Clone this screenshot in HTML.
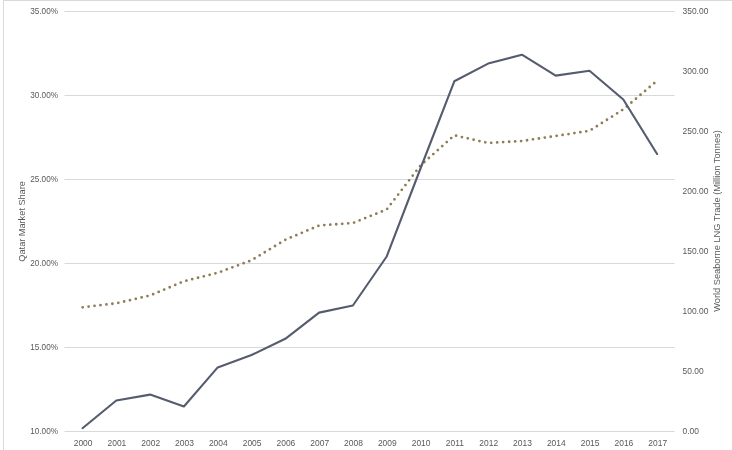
<!DOCTYPE html>
<html><head><meta charset="utf-8"><title>Qatar Market Share chart</title>
<style>
html,body{margin:0;padding:0;background:#fff;}
body{width:732px;height:450px;overflow:hidden;}
svg{display:block;}
text{font-family:"Liberation Sans", Arial, sans-serif;fill:#595959;}
</style></head><body>
<svg width="732" height="450" viewBox="0 0 732 450">
<rect x="0" y="0" width="732" height="450" fill="#fff"/>
<line x1="3.5" y1="0" x2="3.5" y2="450" stroke="#d9d9d9" stroke-width="1"/>
<line x1="3" y1="0.5" x2="732" y2="0.5" stroke="#d9d9d9" stroke-width="1"/>
<line x1="64.5" y1="11.5" x2="674.5" y2="11.5" stroke="#d9d9d9" stroke-width="1"/>
<line x1="64.5" y1="95.5" x2="674.5" y2="95.5" stroke="#d9d9d9" stroke-width="1"/>
<line x1="64.5" y1="179.5" x2="674.5" y2="179.5" stroke="#d9d9d9" stroke-width="1"/>
<line x1="64.5" y1="263.5" x2="674.5" y2="263.5" stroke="#d9d9d9" stroke-width="1"/>
<line x1="64.5" y1="347.5" x2="674.5" y2="347.5" stroke="#d9d9d9" stroke-width="1"/>
<line x1="64.5" y1="431.5" x2="674.5" y2="431.5" stroke="#d9d9d9" stroke-width="1"/>
<text transform="translate(58,14.4) scale(0.91,1)" font-size="9" text-anchor="end">35.00%</text>
<text transform="translate(58,98.4) scale(0.91,1)" font-size="9" text-anchor="end">30.00%</text>
<text transform="translate(58,182.4) scale(0.91,1)" font-size="9" text-anchor="end">25.00%</text>
<text transform="translate(58,266.4) scale(0.91,1)" font-size="9" text-anchor="end">20.00%</text>
<text transform="translate(58,350.4) scale(0.91,1)" font-size="9" text-anchor="end">15.00%</text>
<text transform="translate(58,434.4) scale(0.91,1)" font-size="9" text-anchor="end">10.00%</text>
<text transform="translate(682.5,14.4) scale(0.94,1)" font-size="9">350.00</text>
<text transform="translate(682.5,74.4) scale(0.94,1)" font-size="9">300.00</text>
<text transform="translate(682.5,134.4) scale(0.94,1)" font-size="9">250.00</text>
<text transform="translate(682.5,194.4) scale(0.94,1)" font-size="9">200.00</text>
<text transform="translate(682.5,254.4) scale(0.94,1)" font-size="9">150.00</text>
<text transform="translate(682.5,314.4) scale(0.94,1)" font-size="9">100.00</text>
<text transform="translate(682.5,374.4) scale(0.94,1)" font-size="9">50.00</text>
<text transform="translate(682.5,434.4) scale(0.94,1)" font-size="9">0.00</text>
<text transform="translate(83.1,446) scale(0.94,1)" font-size="9" text-anchor="middle">2000</text>
<text transform="translate(116.9,446) scale(0.94,1)" font-size="9" text-anchor="middle">2001</text>
<text transform="translate(150.7,446) scale(0.94,1)" font-size="9" text-anchor="middle">2002</text>
<text transform="translate(184.5,446) scale(0.94,1)" font-size="9" text-anchor="middle">2003</text>
<text transform="translate(218.3,446) scale(0.94,1)" font-size="9" text-anchor="middle">2004</text>
<text transform="translate(252.1,446) scale(0.94,1)" font-size="9" text-anchor="middle">2005</text>
<text transform="translate(285.9,446) scale(0.94,1)" font-size="9" text-anchor="middle">2006</text>
<text transform="translate(319.7,446) scale(0.94,1)" font-size="9" text-anchor="middle">2007</text>
<text transform="translate(353.5,446) scale(0.94,1)" font-size="9" text-anchor="middle">2008</text>
<text transform="translate(387.3,446) scale(0.94,1)" font-size="9" text-anchor="middle">2009</text>
<text transform="translate(421.1,446) scale(0.94,1)" font-size="9" text-anchor="middle">2010</text>
<text transform="translate(454.9,446) scale(0.94,1)" font-size="9" text-anchor="middle">2011</text>
<text transform="translate(488.7,446) scale(0.94,1)" font-size="9" text-anchor="middle">2012</text>
<text transform="translate(522.5,446) scale(0.94,1)" font-size="9" text-anchor="middle">2013</text>
<text transform="translate(556.3,446) scale(0.94,1)" font-size="9" text-anchor="middle">2014</text>
<text transform="translate(590.1,446) scale(0.94,1)" font-size="9" text-anchor="middle">2015</text>
<text transform="translate(623.9,446) scale(0.94,1)" font-size="9" text-anchor="middle">2016</text>
<text transform="translate(657.7,446) scale(0.94,1)" font-size="9" text-anchor="middle">2017</text>
<text transform="translate(25,221.4) rotate(-90)" fill="#7a7a7a" font-size="9.3" text-anchor="middle" textLength="80.5" lengthAdjust="spacingAndGlyphs">Qatar Market Share</text>
<text transform="translate(720,221) rotate(-90)" fill="#7a7a7a" font-size="9.3" text-anchor="middle" textLength="181.5" lengthAdjust="spacingAndGlyphs">World Seaborne LNG Trade (Million Tonnes)</text>
<polyline points="82.5,307.3 116.3,303.3 150.1,295.5 183.9,281.3 217.7,272.8 251.5,260.3 285.3,239.8 319.1,225.5 352.9,223.0 386.7,209.5 420.5,165.5 454.3,135.3 488.1,143.0 521.9,141.0 555.7,136.0 589.5,130.8 623.3,109.4 657.1,80.7" fill="none" stroke="#8f7d56" stroke-width="2.8" stroke-linecap="round" stroke-linejoin="round" stroke-dasharray="0 5.99" stroke-dashoffset="-0.15"/>
<polyline points="82.5,428.2 116.3,400.5 150.1,394.6 183.9,406.5 217.7,367.4 251.5,355.0 285.3,338.8 319.1,312.6 352.9,305.5 386.7,256.5 420.5,168.5 454.3,81.3 488.1,63.6 521.9,54.7 555.7,75.6 589.5,70.7 623.3,99.5 657.1,154.0" fill="none" stroke="#545c6d" stroke-width="2.1" stroke-linecap="round" stroke-linejoin="round"/>
</svg>
</body></html>
